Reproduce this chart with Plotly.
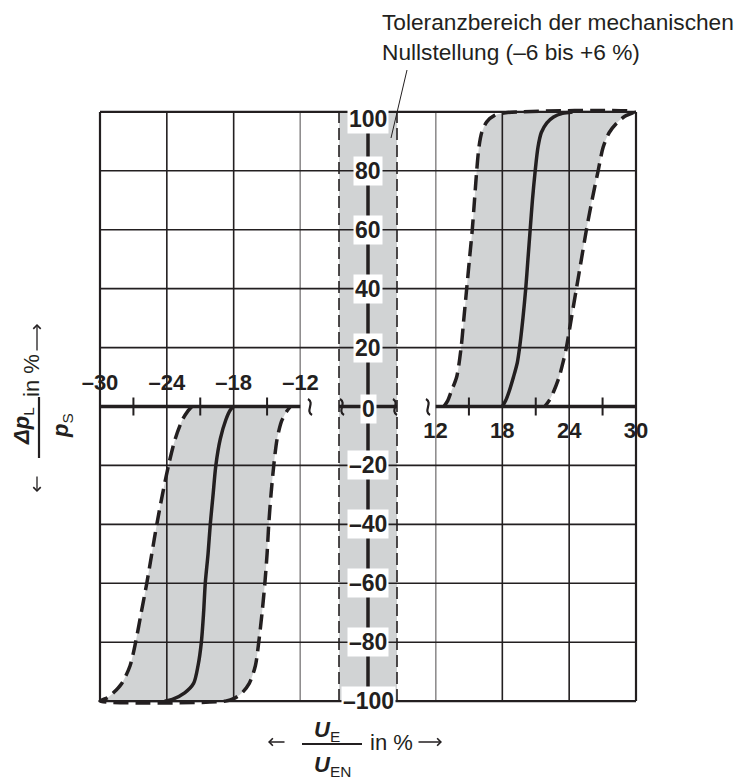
import plotly.graph_objects as go

# ---------------- data ----------------
# outer scale ticks (percent of nominal input signal)
neg_ticks = [-30, -24, -18, -12]
pos_ticks = [12, 18, 24, 30]
neg_minor = [-27, -21, -15]
pos_minor = [15, 21, 27]
# vertical scale (percent of supply pressure)
y_ticks = [100, 80, 60, 40, 20, 0, -20, -40, -60, -80, -100]
# tolerance band of the mechanical zero position
band_limits = [-6, 6]

# positive branch: lower tolerance limit, nominal curve, upper tolerance limit
pos_left_x = [12.75, 13.1, 13.4, 13.9, 14.3, 14.55, 14.8, 15.05, 15.3, 15.5, 15.7, 15.9, 16.15, 16.6, 17.3, 18.3, 19.3]
pos_left_y = [0, 2, 5, 10, 20, 30, 40, 50, 60, 70, 80, 88, 93, 96.6, 98.8, 99.7, 100]
pos_mid_x = [18.0, 18.3, 18.6, 19.0, 19.35, 19.55, 19.85, 20.1, 20.3, 20.5, 20.7, 20.95, 21.2, 21.5, 22.0, 22.6, 23.4, 24.3]
pos_mid_y = [0, 2, 5, 10, 15, 20, 30, 40, 50, 60, 70, 80, 88, 93, 96.3, 98.3, 99.5, 100]
pos_right_x = [21.8, 22.2, 22.6, 23.1, 23.45, 23.75, 24.2, 24.65, 25.1, 25.55, 26.05, 26.6, 27.05, 27.6, 28.3, 29.0, 29.85]
pos_right_y = [0, 2, 5, 10, 15, 20, 30, 40, 50, 60, 70, 80, 88, 93, 96.3, 98.5, 100]

# negative branch
neg_left_x = [-21.75, -22.1, -22.6, -23.25, -23.85, -24.4, -24.9, -25.35, -25.8, -26.3, -26.8, -27.3, -28.05, -28.8, -29.3, -30.0]
neg_left_y = [0, -1.5, -4.5, -11, -20, -30, -40, -50, -60, -70, -80, -88, -94, -97.2, -98.8, -100]
neg_mid_x = [-18.0, -18.3, -18.7, -19.2, -19.6, -19.85, -20.1, -20.3, -20.55, -20.7, -20.9, -21.2, -21.6, -22.4, -23.5, -24.2]
neg_mid_y = [0, -1.2, -4.5, -11, -20, -30, -40, -50, -60, -70, -80, -88, -94, -97.2, -99.4, -100]
neg_right_x = [-12.9, -13.3, -13.7, -14.1, -14.4, -14.65, -14.85, -15.0, -15.2, -15.45, -15.75, -16.05, -16.6, -17.25, -17.9, -18.75]
neg_right_y = [0, -2, -5, -11, -20, -30, -40, -50, -60, -70, -80, -88, -94, -97.2, -99, -100]

# ---------------- styling / layout helpers ----------------
INK = "#231f20"
GREY = "#d1d3d4"
FONT = "Liberation Sans"

W, H = 744, 782
ML, MR, MT, MB = 94, 102, 106, 75
PW, PH = W - ML - MR, H - MT - MB


def fx(px):
    return (px - ML) / PW


def fy(py):
    return (H - MB - py) / PH


UNIT = (300.5 - 100) / 18          # pixels per percent on the outer scales
BAND_UNIT = (397 - 339) / 12       # pixels per percent inside the zero band

rng_neg = [-30.5, -12]
rng_pos = [12, 30.5]
rng_band = [-6.5, 6.5]
dom_neg = [fx(100 - 0.5 * UNIT), fx(300.5)]
dom_pos = [fx(435.5), fx(636 + 0.5 * UNIT)]
dom_band = [fx(339 - 0.5 * BAND_UNIT), fx(397 + 0.5 * BAND_UNIT)]


def xpaper(v, rng, dom):
    return dom[0] + (v - rng[0]) / (rng[1] - rng[0]) * (dom[1] - dom[0])


def label(v):
    return f"–{abs(v)}" if v < 0 else str(v)


def note(px, py, text, size=22, angle=0, **kw):
    d = dict(xref="paper", yref="paper", x=fx(px), y=fy(py), text=text,
             showarrow=False, xanchor="center", yanchor="middle", textangle=angle,
             font=dict(family=FONT, size=size, color=INK))
    d.update(kw)
    return d


def arrow(tip_x, tip_y, dx, dy):
    return dict(xref="paper", yref="paper", x=fx(tip_x), y=fy(tip_y), text="",
                showarrow=True, ax=dx, ay=dy, arrowhead=4, arrowsize=1.1,
                arrowwidth=1.3, arrowcolor=INK, standoff=0, startstandoff=0)


fig = go.Figure()

# tolerance areas with dashed limits
for lx, ly, rx, ry, xa in [
    (pos_left_x, pos_left_y, pos_right_x, pos_right_y, "x3"),
    (neg_left_x, neg_left_y, neg_right_x, neg_right_y, "x"),
]:
    px_ = lx + rx[::-1]
    py_ = ly + ry[::-1]
    fig.add_trace(go.Scatter(x=px_, y=py_, xaxis=xa, yaxis="y", mode="lines",
                             fill="toself", fillcolor=GREY,
                             line=dict(width=0, shape="spline", smoothing=0.8),
                             hoverinfo="skip", showlegend=False))
    fig.add_trace(go.Scatter(x=px_, y=py_, xaxis=xa, yaxis="y", mode="lines",
                             line=dict(color=INK, width=3.5, dash="15px,7px",
                                       shape="spline", smoothing=0.8),
                             hoverinfo="skip", showlegend=False))

# nominal characteristic curves
for mx, my, xa in [(pos_mid_x, pos_mid_y, "x3"), (neg_mid_x, neg_mid_y, "x")]:
    fig.add_trace(go.Scatter(x=mx, y=my, xaxis=xa, yaxis="y", mode="lines",
                             line=dict(color=INK, width=3.5, shape="spline", smoothing=0.8),
                             hoverinfo="skip", showlegend=False))

# minor ticks on the horizontal axis
for mt, xa in [(neg_minor, "x"), (pos_minor, "x3")]:
    fig.add_trace(go.Scatter(x=mt, y=[0] * len(mt), xaxis=xa, yaxis="y", mode="markers",
                             marker=dict(symbol="line-ns", size=13,
                                         line=dict(color=INK, width=2)),
                             hoverinfo="skip", showlegend=False))

shapes = []
# grey zero band, its dashed limits and the vertical axis through it
shapes.append(dict(type="rect", xref="x2", yref="y", x0=band_limits[0], x1=band_limits[1],
                   y0=-100, y1=100, fillcolor=GREY, line=dict(width=0), layer="below"))
for b in band_limits:
    shapes.append(dict(type="line", xref="x2", yref="y", x0=b, x1=b, y0=-100, y1=100,
                       line=dict(color=INK, width=1.6, dash="12px,5px"), layer="above"))
shapes.append(dict(type="line", xref="x2", yref="y", x0=0, x1=0, y0=-100, y1=100,
                   line=dict(color=INK, width=3.5), layer="above"))

# vertical grid lines
for ticks, xa in [(neg_ticks, "x"), (pos_ticks, "x3")]:
    for v in ticks:
        w = 2.2 if abs(v) == 30 else 1.6
        shapes.append(dict(type="line", xref=xa, yref="y", x0=v, x1=v, y0=-100, y1=100,
                           line=dict(color=INK, width=w), layer="above"))

# horizontal grid lines across the whole width
gx0 = xpaper(neg_ticks[0], rng_neg, dom_neg)
gx1 = xpaper(pos_ticks[-1], rng_pos, dom_pos)
for v in y_ticks:
    if v == 0:
        continue
    w = 2.2 if abs(v) == 100 else 1.6
    shapes.append(dict(type="line", xref="paper", yref="y", x0=gx0, x1=gx1, y0=v, y1=v,
                       line=dict(color=INK, width=w), layer="above"))

# broken horizontal axis
for xa, a, b in [("x", neg_ticks[0], neg_ticks[-1]), ("x2", band_limits[0], band_limits[1]),
                 ("x3", pos_ticks[0], pos_ticks[-1])]:
    shapes.append(dict(type="line", xref=xa, yref="y", x0=a, x1=b, y0=0, y1=0,
                       line=dict(color=INK, width=3.5), layer="above"))

# wavy axis-break marks
for cx in [310, 342, 395, 428]:
    cy = 407
    path = (f"M {fx(cx - 2)},{fy(cy - 8)} C {fx(cx + 5)},{fy(cy - 4)} "
            f"{fx(cx - 5)},{fy(cy + 4)} {fx(cx + 2)},{fy(cy + 8)}")
    shapes.append(dict(type="path", xref="paper", yref="paper", path=path,
                       line=dict(color=INK, width=2.2), layer="above"))

# leader line of the band note
shapes.append(dict(type="line", xref="paper", yref="paper", x0=fx(407), y0=fy(70),
                   x1=fx(391), y1=fy(138), line=dict(color=INK, width=1)))
# fraction bars of the axis titles
shapes.append(dict(type="line", xref="paper", yref="paper", x0=fx(302), x1=fx(362),
                   y0=fy(744), y1=fy(744), line=dict(color=INK, width=2.2)))
shapes.append(dict(type="line", xref="paper", yref="paper", x0=fx(39), x1=fx(39),
                   y0=fy(397), y1=fy(458), line=dict(color=INK, width=2.2)))

ann = []
# vertical axis title (reads bottom to top)
ann += [
    arrow(37, 492, 0, -17),
    note(23, 426, "<b><i>Δp</i></b><sub>L</sub>", angle=-90),
    note(62, 426, "<b><i>p</i></b><sub>S</sub>", angle=-90),
    note(31, 376, "in %", angle=-90),
    arrow(37, 324, 0, 28),
]
# horizontal axis title
ann += [
    arrow(268, 742, 18, 0),
    note(312, 731, "<b><i>U</i></b><sub>E</sub>", xanchor="left"),
    note(312, 766, "<b><i>U</i></b><sub>EN</sub>", xanchor="left"),
    note(391, 742, "in %"),
    arrow(442, 742, -25, 0),
]
# note on the band
ann.append(note(380, 7, "Toleranzbereich der mechanischen<br>Nullstellung (–6 bis +6 %)",
                size=22.7, xanchor="left", yanchor="top", align="left"))

# vertical scale labels sitting on the band axis
for v in y_ticks:
    ann.append(dict(xref="x2", yref="y", x=0, y=v, text=label(v), showarrow=False,
                    xanchor="center", yanchor="middle",
                    font=dict(family=FONT, size=23, color=INK, weight="bold"),
                    bgcolor="white", borderpad=1,
                    yshift=-7 if v == 100 else (-2 if v == 0 else 0)))

tickfont = dict(family=FONT, size=22, color=INK, weight="bold")
common = dict(showgrid=False, zeroline=False, showline=False, ticks="", fixedrange=True)

fig.update_layout(
    width=W, height=H,
    margin=dict(l=ML, r=MR, t=MT, b=MB, pad=0),
    paper_bgcolor="white", plot_bgcolor="rgba(0,0,0,0)",
    showlegend=False,
    xaxis=dict(domain=dom_neg, range=rng_neg, anchor="free", position=0.5, side="top",
               tickvals=neg_ticks, ticktext=[label(v) for v in neg_ticks],
               tickfont=tickfont, ticklabelstandoff=12, **common),
    xaxis2=dict(domain=dom_band, range=rng_band, anchor="y", showticklabels=False, **common),
    xaxis3=dict(domain=dom_pos, range=rng_pos, anchor="free", position=0.5, side="bottom",
                tickvals=pos_ticks, ticktext=[label(v) for v in pos_ticks],
                tickfont=tickfont, ticklabelstandoff=8, **common),
    yaxis=dict(domain=[0, 1], range=[-102, 102], showticklabels=False, **common),
    shapes=shapes,
    annotations=ann,
)

fig.write_html("out.html")
